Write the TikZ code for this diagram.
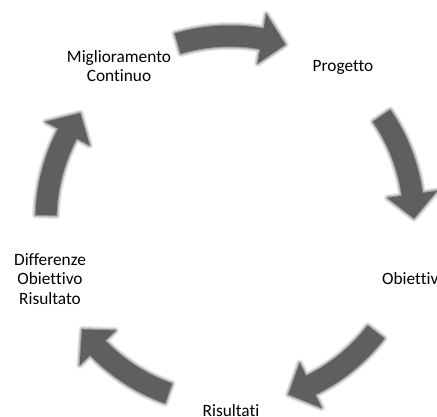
\documentclass[tikz,border=0pt]{standalone}
\usepackage{fontspec}
\setmainfont{Carlito}[Ligatures=NoCommon]
\definecolor{arrowgray}{RGB}{95,95,95}
\begin{document}
\begin{tikzpicture}[x=1pt,y=1pt,
  lab/.style={font=\fontsize{17.3}{19.5}\selectfont, align=center, inner sep=0pt, text=black}]
\useasboundingbox (0,0) rectangle (437,417);
\clip (0,0) rectangle (437,417);
\def\arrowpath{(\s:194.5) arc[start angle=\s, end angle=\n, radius=194.5] -- (\n:209) -- (\t:184) -- (\n:159) -- (\n:173.5) arc[start angle=\n, end angle=\s, radius=173.5] -- cycle}
\foreach \c in {90,18,-54,-126,162} {
  \pgfmathsetmacro\s{\c+16.5}
  \pgfmathsetmacro\n{\c-10}
  \pgfmathsetmacro\t{\c-17.5}
  \begin{scope}[shift={(230,197)}]
    \foreach \w/\o in {7/0.15,4.5/0.25,2/0.4}
      \draw[arrowgray, line width=\w, opacity=\o, line join=round] \arrowpath;
    \fill[arrowgray] \arrowpath;
  \end{scope}
}
\node[lab] (mig) at (119,351) {Miglioramento\\Continuo};
\node[lab] (prog) at (343,350) {Progetto};
\node[lab, anchor=west] (obi) at (382,138) {Obiettivo};
\node[lab] (ris) at (231,6) {Risultati};
\node[lab] (diff) at (50,138) {Differenze\\Obiettivo\\Risultato};
\end{tikzpicture}
\end{document}
